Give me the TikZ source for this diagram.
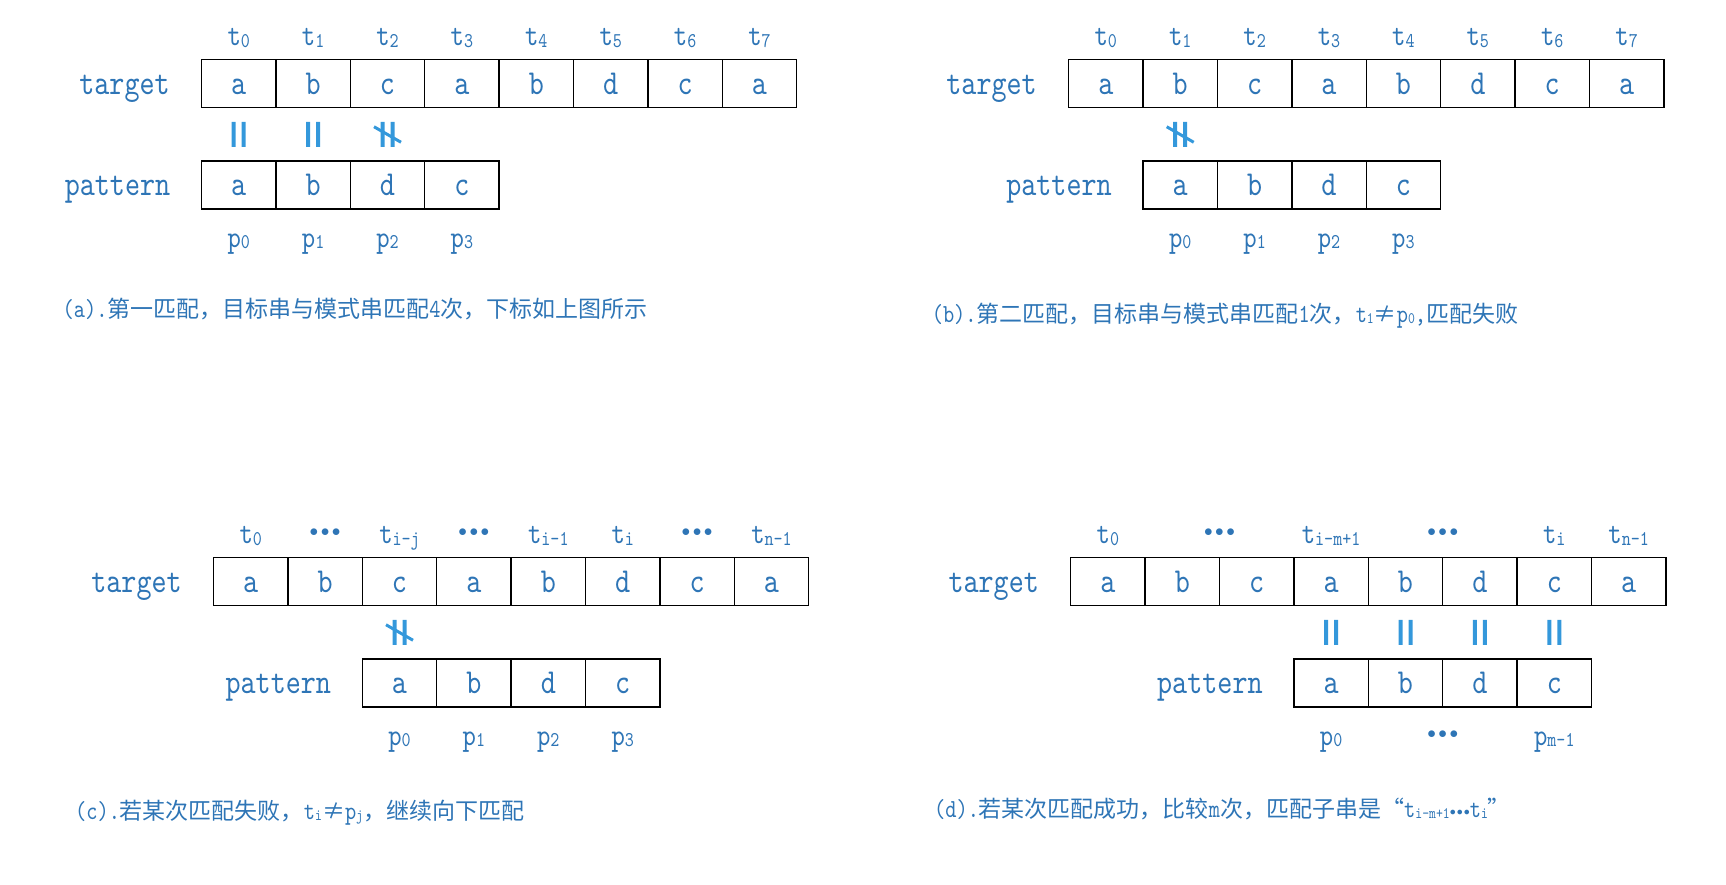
\documentclass[tikz,border=0pt]{standalone}
\usepackage{fontspec}
\setmonofont{lmmono10-regular.otf}[FakeStretch=0.82]
\newfontfamily\cjk{Noto Sans CJK SC}
\usetikzlibrary{positioning,calc}
\definecolor{txtblue}{RGB}{46,117,182}
\definecolor{markblue}{RGB}{52,152,219}
\newcommand\lowidx[2][21]{\raisebox{-1.5pt}{\fontsize{#1}{#1}\selectfont #2}}
\newcommand\lat[1]{{\ttfamily\fontsize{26}{26}\selectfont #1}}
\newcommand\celldots{{\fontsize{16}{16}\selectfont\raisebox{7pt}{$\bullet$\kern2.5pt$\bullet$\kern2.5pt$\bullet$}}}
\newcommand\capdots{{\fontsize{12}{12}\selectfont\raisebox{2pt}{$\bullet$\kern1pt$\bullet$\kern1pt$\bullet$}}}

\begin{document}
\begin{tikzpicture}[x=1pt, y=-1pt,
  cell/.style={draw=black, line width=1.4pt, minimum width=74.4pt, minimum height=48pt,
               inner sep=0pt, outer sep=0pt, text height=23pt, text depth=1.5pt,
               font=\ttfamily\fontsize{35}{35}\selectfont, text=txtblue},
  rowlbl/.style={inner sep=0pt, text height=23pt, text depth=1.5pt,
                 font=\ttfamily\fontsize{35}{35}\selectfont, text=txtblue},
  idx/.style={inner sep=0pt, text height=20pt, text depth=6pt,
              font=\ttfamily\fontsize{31}{31}\selectfont, text=txtblue},
  captxt/.style={anchor=base west, inner sep=0pt,
                 font=\cjk\fontsize{23}{23}\selectfont, text=txtblue},
  eqbars/.pic={\fill[markblue] (-7,-12.5) rectangle (-3,12.5) (3,-12.5) rectangle (7,12.5);},
  neqbars/.pic={\fill[markblue] (-7,-12.5) rectangle (-3,12.5) (3,-12.5) rectangle (7,12.5);
                \draw[markblue, line width=3pt] (-13.5,-7.5) -- (13.5,8);}
]
\useasboundingbox (0,0) rectangle (1726,884);

% (a) first match
\node[cell, anchor=north west] (ta0) at (201.5,59.5) {a};
\node[cell, right=0pt of ta0] (ta1) {b};
\node[cell, right=0pt of ta1] (ta2) {c};
\node[cell, right=0pt of ta2] (ta3) {a};
\node[cell, right=0pt of ta3] (ta4) {b};
\node[cell, right=0pt of ta4] (ta5) {d};
\node[cell, right=0pt of ta5] (ta6) {c};
\node[cell, right=0pt of ta6] (ta7) {a};
\node[cell, anchor=north west] (pa0) at (201.5,161) {a};
\node[cell, right=0pt of pa0] (pa1) {b};
\node[cell, right=0pt of pa1] (pa2) {d};
\node[cell, right=0pt of pa2] (pa3) {c};
\node[rowlbl] (a-tgt) at ([xshift=-77pt]ta0.west) {target};
\node[rowlbl] (a-pat) at ([xshift=-84pt]pa0.west) {pattern};
\node[idx, above=7.5pt of ta0] (a-t0) {t\lowidx{0}};
\node[idx, above=7.5pt of ta1] (a-t1) {t\lowidx{1}};
\node[idx, above=7.5pt of ta2] (a-t2) {t\lowidx{2}};
\node[idx, above=7.5pt of ta3] (a-t3) {t\lowidx{3}};
\node[idx, above=7.5pt of ta4] (a-t4) {t\lowidx{4}};
\node[idx, above=7.5pt of ta5] (a-t5) {t\lowidx{5}};
\node[idx, above=7.5pt of ta6] (a-t6) {t\lowidx{6}};
\node[idx, above=7.5pt of ta7] (a-t7) {t\lowidx{7}};
\node[idx, below=18pt of pa0] (a-p0) {p\lowidx{0}};
\node[idx, below=18pt of pa1] (a-p1) {p\lowidx{1}};
\node[idx, below=18pt of pa2] (a-p2) {p\lowidx{2}};
\node[idx, below=18pt of pa3] (a-p3) {p\lowidx{3}};
\pic at ($(ta0.south)!0.5!(pa0.north)$) {eqbars};
\pic at ($(ta1.south)!0.5!(pa1.north)$) {eqbars};
\pic at ($(ta2.south)!0.5!(pa2.north)$) {neqbars};
\node[captxt] (a-cap) at (62.5,317) {\lat{(a).}第一匹配，目标串与模式串匹配\lat{4}次，下标如上图所示};

% (b) second match
\node[cell, anchor=north west] (tb0) at (1068.6,59.5) {a};
\node[cell, right=0pt of tb0] (tb1) {b};
\node[cell, right=0pt of tb1] (tb2) {c};
\node[cell, right=0pt of tb2] (tb3) {a};
\node[cell, right=0pt of tb3] (tb4) {b};
\node[cell, right=0pt of tb4] (tb5) {d};
\node[cell, right=0pt of tb5] (tb6) {c};
\node[cell, right=0pt of tb6] (tb7) {a};
\node[cell, anchor=north west] (pb0) at (1143,161) {a};
\node[cell, right=0pt of pb0] (pb1) {b};
\node[cell, right=0pt of pb1] (pb2) {d};
\node[cell, right=0pt of pb2] (pb3) {c};
\node[rowlbl] (b-tgt) at ([xshift=-77pt]tb0.west) {target};
\node[rowlbl] (b-pat) at ([xshift=-84pt]pb0.west) {pattern};
\node[idx, above=7.5pt of tb0] (b-t0) {t\lowidx{0}};
\node[idx, above=7.5pt of tb1] (b-t1) {t\lowidx{1}};
\node[idx, above=7.5pt of tb2] (b-t2) {t\lowidx{2}};
\node[idx, above=7.5pt of tb3] (b-t3) {t\lowidx{3}};
\node[idx, above=7.5pt of tb4] (b-t4) {t\lowidx{4}};
\node[idx, above=7.5pt of tb5] (b-t5) {t\lowidx{5}};
\node[idx, above=7.5pt of tb6] (b-t6) {t\lowidx{6}};
\node[idx, above=7.5pt of tb7] (b-t7) {t\lowidx{7}};
\node[idx, below=18pt of pb0] (b-p0) {p\lowidx{0}};
\node[idx, below=18pt of pb1] (b-p1) {p\lowidx{1}};
\node[idx, below=18pt of pb2] (b-p2) {p\lowidx{2}};
\node[idx, below=18pt of pb3] (b-p3) {p\lowidx{3}};
\pic at ($(tb1.south)!0.5!(pb0.north)$) {neqbars};
\node[captxt] (b-cap) at (931.6,322) {\lat{(b).}第二匹配，目标串与模式串匹配\lat{1}次，\lat{t\lowidx[16]{1}}≠\lat{p\lowidx[16]{0},}匹配失败};

% (c) some match fails
\node[cell, anchor=north west] (tc0) at (213.5,557.5) {a};
\node[cell, right=0pt of tc0] (tc1) {b};
\node[cell, right=0pt of tc1] (tc2) {c};
\node[cell, right=0pt of tc2] (tc3) {a};
\node[cell, right=0pt of tc3] (tc4) {b};
\node[cell, right=0pt of tc4] (tc5) {d};
\node[cell, right=0pt of tc5] (tc6) {c};
\node[cell, right=0pt of tc6] (tc7) {a};
\node[cell, anchor=north west] (pc0) at (362.3,659) {a};
\node[cell, right=0pt of pc0] (pc1) {b};
\node[cell, right=0pt of pc1] (pc2) {d};
\node[cell, right=0pt of pc2] (pc3) {c};
\node[rowlbl] (c-tgt) at ([xshift=-77pt]tc0.west) {target};
\node[rowlbl] (c-pat) at ([xshift=-84pt]pc0.west) {pattern};
\node[idx, above=7.5pt of tc0] (c-t0) {t\lowidx{0}};
\node[idx, above=7.5pt of tc1] (c-d1) {\celldots};
\node[idx, above=7.5pt of tc2] (c-t2) {t\lowidx{i-j}};
\node[idx, above=7.5pt of tc3] (c-d2) {\celldots};
\node[idx, above=7.5pt of tc4] (c-t4) {t\lowidx{i-1}};
\node[idx, above=7.5pt of tc5] (c-t5) {t\lowidx{i}};
\node[idx, above=7.5pt of tc6] (c-d3) {\celldots};
\node[idx, above=7.5pt of tc7] (c-t7) {t\lowidx{n-1}};
\node[idx, below=18pt of pc0] (c-p0) {p\lowidx{0}};
\node[idx, below=18pt of pc1] (c-p1) {p\lowidx{1}};
\node[idx, below=18pt of pc2] (c-p2) {p\lowidx{2}};
\node[idx, below=18pt of pc3] (c-p3) {p\lowidx{3}};
\pic at ($(tc2.south)!0.5!(pc0.north)$) {neqbars};
\node[captxt] (c-cap) at (75,819) {\lat{(c).}若某次匹配失败，\lat{t\lowidx[16]{i}}≠\lat{p\lowidx[16]{j}}，继续向下匹配};

% (d) some match succeeds
\node[cell, anchor=north west] (td0) at (1070.7,557.5) {a};
\node[cell, right=0pt of td0] (td1) {b};
\node[cell, right=0pt of td1] (td2) {c};
\node[cell, right=0pt of td2] (td3) {a};
\node[cell, right=0pt of td3] (td4) {b};
\node[cell, right=0pt of td4] (td5) {d};
\node[cell, right=0pt of td5] (td6) {c};
\node[cell, right=0pt of td6] (td7) {a};
\node[cell, anchor=north west] (pd0) at (1293.9,659) {a};
\node[cell, right=0pt of pd0] (pd1) {b};
\node[cell, right=0pt of pd1] (pd2) {d};
\node[cell, right=0pt of pd2] (pd3) {c};
\node[rowlbl] (d-tgt) at ([xshift=-77pt]td0.west) {target};
\node[rowlbl] (d-pat) at ([xshift=-84pt]pd0.west) {pattern};
\node[idx, above=7.5pt of td0] (d-t0) {t\lowidx{0}};
\node[idx, above=7.5pt of td1.north east] (d-d1) {\celldots};
\node[idx, above=7.5pt of td3] (d-t3) {t\lowidx{i-m+1}};
\node[idx, above=7.5pt of td4.north east] (d-d2) {\celldots};
\node[idx, above=7.5pt of td6] (d-t6) {t\lowidx{i}};
\node[idx, above=7.5pt of td7] (d-t7) {t\lowidx{n-1}};
\node[idx, below=18pt of pd0] (d-p0) {p\lowidx{0}};
\node[idx, below=18pt of pd1.south east] (d-pd) {\celldots};
\node[idx, below=18pt of pd3] (d-p3) {p\lowidx{m-1}};
\pic at ($(td3.south)!0.5!(pd0.north)$) {eqbars};
\pic at ($(td4.south)!0.5!(pd1.north)$) {eqbars};
\pic at ($(td5.south)!0.5!(pd2.north)$) {eqbars};
\pic at ($(td6.south)!0.5!(pd3.north)$) {eqbars};
\node[captxt] (d-cap) at (934,817) {\lat{(d).}若某次匹配成功，比较\lat{m}次，匹配子串是“\lat{t\lowidx[16]{i-m+1}}\capdots\lat{t\lowidx[16]{i}}”};

\end{tikzpicture}
\end{document}
